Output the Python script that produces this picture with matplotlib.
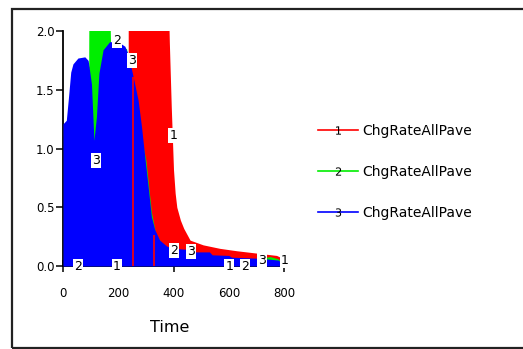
import matplotlib
matplotlib.use("Agg")
import matplotlib.pyplot as plt
from matplotlib.lines import Line2D
from matplotlib.patches import Rectangle

# ---------------- data ----------------
series_name = "ChgRateAllPave"
series_ids = ["1", "2", "3"]
series_colors = ["#ff0000", "#00ee00", "#0000ff"]

# series 1 (red) envelope
t1 = [236, 236.1, 380, 385, 392, 400, 406, 412, 425, 437, 460, 507, 568, 628, 700, 773, 800]
v1 = [0.0, 2.4, 2.4, 1.9, 1.35, 0.82, 0.62, 0.50, 0.39, 0.32, 0.22, 0.18, 0.15, 0.13, 0.11, 0.09, 0.06]
# thin red spikes drawn over blue
spike_t = [255, 328]
spike_v = [1.61, 0.26]

# series 2 (green) envelope
t2 = [0, 90, 93, 94, 168, 172, 230, 290, 300, 320, 335, 360, 400, 500, 600, 700, 750, 780, 800]
v2 = [1.1, 1.7, 1.7, 2.4, 2.4, 1.9, 1.85, 1.02, 0.90, 0.46, 0.28, 0.18, 0.13, 0.10, 0.07, 0.06, 0.08, 0.06, 0.0]

# series 3 (blue) envelope
t3 = [0, 12, 20, 28, 36, 54, 79, 91, 103, 112, 121, 130, 145, 169, 205, 224, 236, 254, 272,
      284, 296, 308, 320, 332, 350, 375, 400, 460, 470, 530, 540, 600, 610, 720, 780, 800]
v3 = [1.21, 1.24, 1.44, 1.65, 1.72, 1.77, 1.78, 1.75, 1.55, 1.07, 1.27, 1.64, 1.84, 1.91, 1.90,
      1.87, 1.80, 1.61, 1.41, 1.19, 0.93, 0.68, 0.42, 0.31, 0.22, 0.17, 0.15, 0.14, 0.12, 0.12,
      0.095, 0.09, 0.075, 0.065, 0.05, 0.0]

# numbered line labels
label_ids = ["2", "1", "3", "2", "3", "1", "2", "3", "1", "2", "3", "1"]
label_t = [55, 194, 119, 194, 251, 399, 403, 462, 602, 659, 719, 804]
label_v = [0.0, 0.0, 0.90, 1.92, 1.75, 1.11, 0.13, 0.12, 0.0, 0.0, 0.05, 0.05]

x_ticks = [0, 200, 400, 600, 800]
y_ticks = [0.0, 0.5, 1.0, 1.5, 2.0]
y_ticklabels = ["0.0", "0.5", "1.0", "1.5", "2.0"]
x_label = "Time"

# ---------------- figure ----------------
W, H = 523, 349
fig = plt.figure(figsize=(W / 100, H / 100), dpi=100)
fig.patch.set_facecolor("white")

ax = fig.add_axes([63 / W, 1 - 266 / H, (284 - 63) / W, (266 - 31) / H])

ax.fill_between(t1, v1, 0, color=series_colors[0], lw=0, zorder=1)
ax.fill_between(t2, v2, 0, color=series_colors[1], lw=0, zorder=2)
ax.fill_between(t3, v3, 0, color=series_colors[2], lw=0, zorder=3)
ax.vlines(spike_t, 0, spike_v, color=series_colors[0], lw=1.2, zorder=4)

for s, t, v in zip(label_ids, label_t, label_v):
    ax.text(t, v, s, ha="center", va="center", fontsize=9, color="black", zorder=6,
            bbox=dict(boxstyle="square,pad=0.08", fc="white", ec="none"), clip_on=False)

ax.set_xlim(0, 800)
ax.set_ylim(0, 2.0)
ax.set_xticks(x_ticks)
ax.set_xticklabels([str(x) for x in x_ticks])
ax.set_yticks(y_ticks)
ax.set_yticklabels(y_ticklabels)
ax.tick_params(axis="both", labelsize=8.5, colors="black", width=1.1)
ax.tick_params(axis="x", direction="inout", length=8, pad=11)
ax.tick_params(axis="y", direction="out", length=5, pad=1)
for side in ["top", "right"]:
    ax.spines[side].set_visible(False)
for side in ["left", "bottom"]:
    ax.spines[side].set_linewidth(1.3)
    ax.spines[side].set_color("black")
ax.set_facecolor("white")

ax.set_xlabel(x_label, fontsize=11.5)
ax.xaxis.set_label_coords((170 - 63) / 221, (266 - 320) / 235)

# legend
handles = [Line2D([], [], color=c, lw=1.2, marker="$" + s + "$", markersize=6,
                  markerfacecolor="black", markeredgecolor="black", markeredgewidth=0)
           for c, s in zip(series_colors, series_ids)]
leg = fig.legend(handles, [series_name] * 3, loc="upper left",
                 bbox_to_anchor=(318 / W, 1 - 124 / H), frameon=False,
                 fontsize=10, handlelength=2.9, handletextpad=0.3,
                 labelspacing=1.95, borderpad=0, borderaxespad=0)

# outer frame
fig.add_artist(Rectangle((12 / W, 1 / H), 1.05, 1 - 10 / H, transform=fig.transFigure,
                         fill=False, ec="#222222", lw=1.6, clip_on=False))

fig.savefig("out.png", dpi=100)
